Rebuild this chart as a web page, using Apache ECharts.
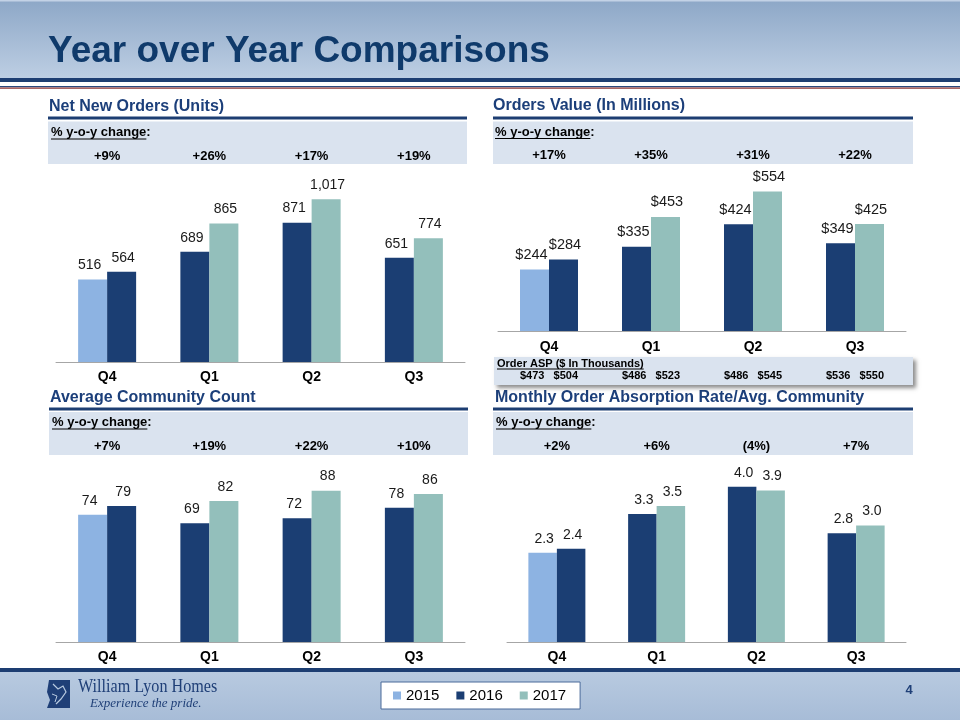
<!DOCTYPE html>
<html><head><meta charset="utf-8">
<script src="https://cdn.jsdelivr.net/npm/echarts@6/dist/echarts.min.js"></script>
<style>html,body{margin:0;padding:0;background:#fff}#c{width:960px;height:720px}</style>
</head><body><div id="c"></div>
<script>
// ---------- DATA ----------
const quarters = ['Q4', 'Q1', 'Q2', 'Q3'];
const legendYears = ['2015', '2016', '2017'];

const nno2015 = [516, null, null, null];
const nno2016 = [564, 689, 871, 651];
const nno2017 = [null, 865, 1017, 774];
const yoyNNO = ['+9%', '+26%', '+17%', '+19%'];

const ov2015 = [244, null, null, null];
const ov2016 = [284, 335, 424, 349];
const ov2017 = [null, 453, 554, 425];
const yoyOV = ['+17%', '+35%', '+31%', '+22%'];
const aspPrior = [473, 486, 486, 536];
const aspCurrent = [504, 523, 545, 550];

const acc2015 = [74, null, null, null];
const acc2016 = [79, 69, 72, 78];
const acc2017 = [null, 82, 88, 86];
const yoyACC = ['+7%', '+19%', '+22%', '+10%'];

const abs2015 = [2.3, null, null, null];
const abs2016 = [2.4, 3.3, 4.0, 2.8];
const abs2017 = [null, 3.5, 3.9, 3.0];
const yoyABS = ['+2%', '+6%', '(4%)', '+7%'];

// ---------- STYLE ----------
const F = "'Liberation Sans', Arial, Helvetica, sans-serif";
const SERIF = "'Liberation Serif', 'Times New Roman', serif";
const NAVY = '#1d3e72';
const TITLE_C = '#1c3f7a';
const BOX = '#dae3ef';
const C15 = '#8db3e2', C16 = '#1b3e73', C17 = '#93bfbb';

function tw(text, font) {
  const c = document.createElement('canvas').getContext('2d');
  c.font = font; return c.measureText(text).width;
}

const chart = echarts.init(document.getElementById('c'), null, {renderer: 'canvas'});

const panels = [
  {title: 'Net New Orders (Units)', tx: 49, ty: 106.5, x0: 48, x1: 467, lineY: 116.5, boxY: 121.5, boxB: 164, cx: 51, cy: 132.5,
   grid: {left: 56, width: 409, top: 170, height: 192}, max: 1200, catMargin: 8, pctMargin: 7.5, lfs: 14,
   d15: nno2015, d16: nno2016, d17: nno2017, yoy: yoyNNO, fmt: v => echarts.format.addCommas(v), bw: 29, offL: -3, offR: 1.5},
  {title: 'Orders Value (In Millions)', tx: 493, ty: 106, x0: 493, x1: 913, lineY: 116.5, boxY: 121.5, boxB: 164, cx: 495, cy: 132,
   grid: {left: 498, width: 408, top: 180, height: 151}, max: 600, catMargin: 9, pctMargin: 18, lfs: 14.5,
   d15: ov2015, d16: ov2016, d17: ov2017, yoy: yoyOV, fmt: v => '$' + v, bw: 29, offL: -3, offR: 1.5},
  {title: 'Average Community Count', tx: 50, ty: 397.5, x0: 49, x1: 468, lineY: 407.5, boxY: 412, boxB: 455, cx: 52, cy: 422.5,
   grid: {left: 56, width: 409, top: 470, height: 172}, max: 100, catMargin: 8, pctMargin: 17.5, lfs: 14,
   d15: acc2015, d16: acc2016, d17: acc2017, yoy: yoyACC, fmt: v => String(v), bw: 29, offL: -3, offR: 1.5},
  {title: 'Monthly Order Absorption Rate/Avg. Community', tx: 495, ty: 398, x0: 493, x1: 913, lineY: 407.5, boxY: 412, boxB: 455, cx: 496, cy: 422.5,
   grid: {left: 507, width: 399, top: 467.3, height: 174.7}, max: 4.5, catMargin: 8, pctMargin: 14.8, lfs: 14,
   d15: abs2015, d16: abs2016, d17: abs2017, yoy: yoyABS, fmt: v => v.toFixed(1), bw: 28.5, offL: 1.5, offR: 1.5}
];

const graphic = [];
graphic.push({type: 'rect', shape: {x: 0, y: 0, width: 960, height: 78}, style: {fill: new echarts.graphic.LinearGradient(0, 0, 0, 1, [{offset: 0, color: '#8da7c7'}, {offset: 1, color: '#bdcee3'}])}});
graphic.push({type: 'rect', shape: {x: 0, y: 0, width: 960, height: 1.5}, style: {fill: '#c3d2e6'}});
graphic.push({type: 'rect', shape: {x: 0, y: 78, width: 960, height: 4}, style: {fill: NAVY}});
graphic.push({type: 'rect', shape: {x: 0, y: 86, width: 960, height: 1.3}, style: {fill: '#2b4a7e'}});
graphic.push({type: 'rect', shape: {x: 0, y: 87.6, width: 960, height: 1.2}, style: {fill: '#8c3535'}});
graphic.push({type: 'text', x: 48, y: 52, style: {text: 'Year over Year Comparisons', font: 'bold 37px ' + F, fill: '#0f3a6b', verticalAlign: 'middle', align: 'left'}});

graphic.push({type: 'rect', shape: {x: 0, y: 668, width: 960, height: 4}, style: {fill: NAVY}});
graphic.push({type: 'rect', shape: {x: 0, y: 672, width: 960, height: 48}, style: {fill: new echarts.graphic.LinearGradient(0, 0, 0, 1, [{offset: 0, color: '#b8cae0'}, {offset: 1, color: '#a7bcd7'}])}});
graphic.push({type: 'polygon', shape: {points: [[49, 680], [70, 680], [70, 708], [47, 708], [50, 700], [47, 692]]}, style: {fill: '#1f3f77'}});
graphic.push({type: 'polyline', shape: {points: [[53, 684], [58, 689], [63, 686], [66, 692], [61, 699], [56, 704]]}, style: {stroke: '#b8cae0', lineWidth: 1.2, fill: null}});
graphic.push({type: 'polyline', shape: {points: [[52, 694], [57, 696], [55, 702]]}, style: {stroke: '#b8cae0', lineWidth: 1, fill: null}});
graphic.push({type: 'text', x: 78, y: 687.5, scaleX: 0.85, style: {text: 'William Lyon Homes', font: '19px ' + SERIF, fill: '#1f3f77', verticalAlign: 'middle'}});
graphic.push({type: 'text', x: 90, y: 703.5, style: {text: 'Experience the pride.', font: 'italic 13px ' + SERIF, fill: '#1f3f77', verticalAlign: 'middle'}});
graphic.push({type: 'text', x: 909, y: 690, style: {text: '4', font: 'bold 13px ' + F, fill: '#1f3f77', verticalAlign: 'middle', align: 'center'}});

panels.forEach(p => {
  graphic.push({type: 'text', x: p.tx, y: p.ty, style: {text: p.title, font: 'bold 16px ' + F, fill: TITLE_C, verticalAlign: 'middle'}});
  graphic.push({type: 'rect', shape: {x: p.x0, y: p.lineY, width: p.x1 - p.x0, height: 3}, style: {fill: NAVY}});
  graphic.push({type: 'rect', shape: {x: p.x0, y: p.boxY, width: p.x1 - p.x0, height: p.boxB - p.boxY}, style: {fill: BOX}});
  const f = 'bold 13px ' + F;
  const w = tw('% y-o-y change', f);
  graphic.push({type: 'text', x: p.cx, y: p.cy, style: {text: '% y-o-y change:', font: f, fill: '#000', verticalAlign: 'middle'}});
  graphic.push({type: 'rect', shape: {x: p.cx, y: p.cy + 6, width: w, height: 1}, style: {fill: '#000'}});
});

graphic.push({type: 'rect', shape: {x: 494, y: 357, width: 419, height: 28}, style: {fill: BOX, shadowBlur: 4, shadowOffsetX: 3, shadowOffsetY: 3, shadowColor: 'rgba(0,0,0,0.45)'}});
(function () {
  const f = 'bold 11px ' + F;
  const t = 'Order ASP ($ In Thousands)';
  graphic.push({type: 'text', x: 497, y: 363.5, style: {text: t, font: f, fill: '#000', verticalAlign: 'middle'}});
  graphic.push({type: 'rect', shape: {x: 497, y: 368.5, width: tw(t, f), height: 1}, style: {fill: '#000'}});
})();

const grids = [], xAxes = [], yAxes = [], series = [];
panels.forEach((p, g) => {
  grids.push(Object.assign({containLabel: false}, p.grid));
  const mainIdx = xAxes.length;
  xAxes.push({gridIndex: g, type: 'category', data: quarters, position: 'bottom',
    axisLine: {lineStyle: {color: '#a6a6a6', width: 1}}, axisTick: {show: false},
    axisLabel: {margin: p.catMargin, fontWeight: 'bold', fontSize: 14, color: '#000', fontFamily: F}});
  xAxes.push({gridIndex: g, type: 'category', data: p.yoy, position: 'top',
    axisLine: {show: false}, axisTick: {show: false},
    axisLabel: {margin: p.pctMargin, fontWeight: 'bold', fontSize: 13, color: '#000', fontFamily: F}});
  if (g === 1) {
    xAxes.push({gridIndex: g, type: 'category', position: 'bottom', offset: 0,
      data: aspPrior.map((a, i) => '$' + a + '   $' + aspCurrent[i]),
      axisLine: {show: false}, axisTick: {show: false},
      axisLabel: {margin: 39.5, fontWeight: 'bold', fontSize: 11, color: '#000', fontFamily: F}});
  }
  yAxes.push({gridIndex: g, type: 'value', min: 0, max: p.max, show: false, splitLine: {show: false}});

  const left16 = p.d16.map((v, i) => p.d15[i] != null ? null : v);
  const right16 = p.d16.map((v, i) => p.d15[i] != null ? v : null);
  const lbl = off => ({show: true, position: 'top', distance: 7, offset: [off, 0], fontSize: p.lfs, color: '#1a1a1a', fontFamily: F,
    formatter: prm => p.fmt(prm.value)});
  const base = {type: 'bar', xAxisIndex: mainIdx, yAxisIndex: g, barWidth: p.bw, barGap: '0%'};
  series.push(Object.assign({}, base, {name: '2015', stack: 'L' + g, data: p.d15, itemStyle: {color: C15}, label: lbl(p.offL)}));
  series.push(Object.assign({}, base, {name: '2016', stack: 'L' + g, data: left16, itemStyle: {color: C16}, label: lbl(p.offL)}));
  series.push(Object.assign({}, base, {name: '2016', stack: 'R' + g, data: right16, itemStyle: {color: C16}, label: lbl(p.offR)}));
  series.push(Object.assign({}, base, {name: '2017', stack: 'R' + g, data: p.d17, itemStyle: {color: C17}, label: lbl(p.offR)}));
});

chart.setOption({
  animation: false,
  backgroundColor: '#ffffff',
  textStyle: {fontFamily: F},
  graphic: graphic,
  legend: {data: legendYears, left: 381, top: 682, orient: 'horizontal', backgroundColor: '#ffffff',
    borderColor: '#4a6a9a', borderWidth: 1, padding: [6, 14, 6, 12], itemGap: 17, itemWidth: 8, itemHeight: 8,
    icon: 'rect', selectedMode: false, textStyle: {fontSize: 15, fontFamily: F, color: '#000'}},
  grid: grids,
  xAxis: xAxes,
  yAxis: yAxes,
  series: series
});
</script>
</body></html>
